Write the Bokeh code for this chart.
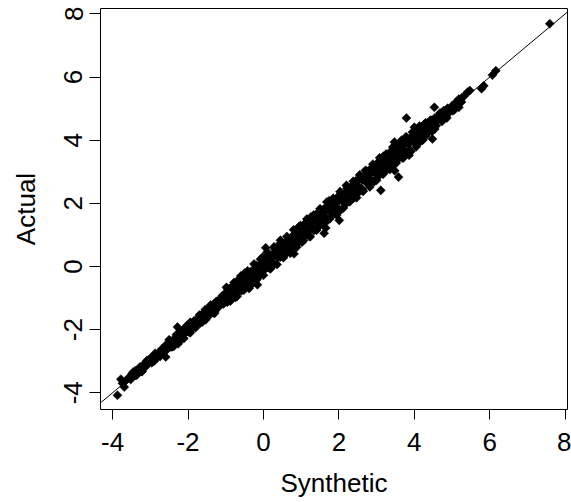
import math
from bokeh.plotting import figure
from bokeh.models import Range1d, FixedTicker, Slope, ColumnDataSource
from bokeh.embed import file_html
from bokeh.resources import INLINE

# ---- data ----
synthetic_a = [-3.57, -3.52, -3.48, -3.44, -3.40, -3.35, -3.31, -3.27, -3.22, -3.18, -3.13, -3.09, -3.05,
               -3.00, -2.96, -2.91, -2.87, -2.82, -2.78, -2.74, -2.69, -2.65, -2.60, -2.56, -2.52]
actual_a = [-3.52, -3.58, -3.40, -3.47, -3.30, -3.43, -3.29, -3.18, -3.32, -3.14, -3.18, -2.98, -3.07,
            -2.93, -3.05, -2.88, -2.75, -2.89, -2.73, -2.85, -2.61, -2.69, -2.50, -2.62, -2.50]

synthetic_b = [-2.48, -2.45, -2.42, -2.38, -2.35, -2.31, -2.28, -2.25, -2.21, -2.18, -2.14, -2.11, -2.08,
               -2.04, -2.01, -1.97, -1.94, -1.91, -1.87, -1.84, -1.80, -1.77, -1.74, -1.70, -1.67, -1.63,
               -1.60, -1.57, -1.53, -1.50, -1.46, -1.43, -1.40, -1.36, -1.33, -1.29, -1.26, -1.23, -1.19,
               -1.16, -1.12, -1.09, -1.06, -1.02]
actual_b = [-2.36, -2.55, -2.39, -2.53, -2.27, -2.16, -2.34, -2.25, -2.34, -2.08, -2.09, -2.28, -1.94,
            -2.08, -1.92, -2.08, -1.77, -1.89, -1.95, -1.72, -1.94, -1.71, -1.76, -1.54, -1.79, -1.55,
            -1.65, -1.44, -1.69, -1.46, -1.35, -1.52, -1.22, -1.39, -1.26, -1.44, -1.12, -1.22, -1.29,
            -1.07, -1.18, -0.93, -1.19, -0.97]

synthetic_c = [-0.99, -0.96, -0.93, -0.89, -0.86, -0.83, -0.79, -0.76, -0.73, -0.69, -0.66, -0.63, -0.59,
               -0.56, -0.53, -0.49, -0.46, -0.43, -0.39, -0.36, -0.33, -0.29, -0.26, -0.23, -0.19, -0.16,
               -0.13, -0.09, -0.06, -0.03, 0.01, 0.04, 0.07, 0.11, 0.14, 0.17, 0.21, 0.24, 0.27, 0.31,
               0.34, 0.37, 0.41, 0.44, 0.47, 0.51, 0.54, 0.57, 0.61, 0.64, 0.67, 0.71, 0.74, 0.77, 0.81,
               0.84, 0.87, 0.91, 0.94, 0.97]
actual_c = [-0.85, -1.13, -0.90, -0.70, -0.94, -0.73, -0.94, -0.71, -0.56, -0.80, -0.66, -0.50, -0.78,
            -0.48, -0.57, -0.33, -0.59, -0.32, -0.37, -0.52, -0.15, -0.36, -0.17, -0.35, -0.04, -0.18,
            -0.07, -0.27, 0.06, -0.12, 0.21, -0.01, 0.14, -0.03, 0.30, 0.18, 0.10, 0.37, 0.10, 0.35,
            0.52, 0.29, 0.51, 0.29, 0.53, 0.70, 0.42, 0.59, 0.42, 0.78, 0.61, 0.82, 0.58, 0.94, 0.84,
            0.74, 1.02, 0.78, 1.02, 0.93]

synthetic_d = [1.01, 1.04, 1.07, 1.11, 1.14, 1.17, 1.21, 1.24, 1.27, 1.31, 1.34, 1.37, 1.41, 1.44, 1.47,
               1.51, 1.54, 1.57, 1.61, 1.64, 1.67, 1.71, 1.74, 1.77, 1.81, 1.84, 1.87, 1.91, 1.94, 1.97,
               2.01, 2.04, 2.07, 2.11, 2.14, 2.17, 2.21, 2.24, 2.27, 2.31, 2.34, 2.37, 2.41, 2.44, 2.47,
               2.51, 2.54, 2.57, 2.61, 2.64, 2.67, 2.71, 2.74, 2.77, 2.81, 2.84, 2.87, 2.91, 2.94, 2.97,
               3.01, 3.04, 3.07, 3.11, 3.14, 3.17]
actual_d = [1.19, 0.82, 1.12, 1.35, 1.02, 1.27, 0.96, 1.39, 1.24, 1.52, 1.17, 1.45, 1.67, 1.35, 1.27,
            1.64, 1.56, 1.43, 1.83, 1.58, 1.84, 1.47, 1.81, 2.02, 1.70, 1.96, 1.68, 1.94, 2.17, 1.82,
            2.10, 1.78, 2.26, 2.07, 2.28, 1.96, 2.47, 2.24, 2.14, 2.51, 2.26, 2.48, 2.18, 2.60, 2.51,
            2.33, 2.78, 2.47, 2.74, 2.39, 2.88, 2.69, 2.82, 2.61, 3.06, 2.77, 3.02, 2.69, 2.99, 3.16,
            2.89, 3.27, 2.88, 3.21, 3.09, 3.34]

synthetic_e = [3.21, 3.25, 3.28, 3.32, 3.35, 3.39, 3.42, 3.46, 3.49, 3.53, 3.56, 3.60, 3.63, 3.67, 3.70,
               3.74, 3.77, 3.81, 3.84, 3.88, 3.91, 3.95, 3.98, 4.02, 4.05, 4.09, 4.12, 4.16, 4.19, 4.23,
               4.26, 4.30, 4.34, 4.38, 4.42, 4.46, 4.50, 4.54, 4.58, 4.63, 4.68, 4.73, 4.78, 4.83, 4.88,
               4.94, 5.00, 5.06, 5.12, 5.18, 5.25, 5.32]
actual_e = [3.01, 3.47, 3.33, 3.20, 3.62, 3.34, 3.57, 3.22, 3.59, 3.81, 3.41, 3.62, 3.83, 3.45, 3.82,
            3.66, 4.02, 3.63, 3.91, 4.06, 3.65, 4.09, 3.96, 4.25, 3.91, 4.18, 3.91, 4.35, 4.22, 4.12,
            4.50, 4.13, 4.45, 4.32, 4.63, 4.27, 4.58, 4.70, 4.46, 4.67, 4.86, 4.59, 4.88, 4.75, 5.01,
            4.89, 5.09, 4.96, 5.18, 5.30, 5.21, 5.40]

synthetic_fill = [-3.46, -3.38, -3.30, -3.22, -3.14, -3.06, -2.98, -2.90, -2.82, -2.74, -2.66, -2.58,
                  -2.50, -2.42, -2.34, -2.26, -2.18, -2.10, -2.02, -1.94, -1.86, -1.78, -1.70, -1.62,
                  -1.54, -1.46, -1.38, -1.30, -1.22, -1.14, -1.06,
                  -0.98, -0.90, -0.82, -0.74, -0.66, -0.58, -0.50, -0.42, -0.34, -0.26, -0.18, -0.10,
                  -0.02, 0.06, 0.14, 0.22, 0.30, 0.38, 0.46, 0.54, 0.62, 0.70, 0.78, 0.86, 0.94,
                  1.02, 1.10, 1.18, 1.26, 1.34, 1.42, 1.50, 1.58, 1.66, 1.74, 1.82, 1.90, 1.98, 2.06,
                  2.14, 2.22, 2.30, 2.38, 2.46, 2.54, 2.62, 2.70, 2.78, 2.86, 2.94, 3.02, 3.10, 3.18,
                  3.26, 3.34, 3.42, 3.50, 3.58, 3.66, 3.74, 3.82, 3.90, 3.98, 4.06, 4.14, 4.22,
                  4.30, 4.38, 4.46, 4.54, 4.62, 4.70, 4.78, 4.86, 4.94, 5.02, 5.10, 5.18, 5.26]
actual_fill = [-3.35, -3.45, -3.26, -3.33, -3.06, -3.08, -2.88, -3.00, -2.81, -2.79, -2.60, -2.66,
               -2.32, -2.54, -2.28, -2.45, -2.05, -2.14, -1.86, -2.10, -1.84, -1.87, -1.60, -1.76,
               -1.36, -1.58, -1.32, -1.49, -1.09, -1.18, -0.90,
               -0.66, -1.03, -0.68, -0.98, -0.41, -0.59, -0.21, -0.61, -0.26, -0.35, 0.02, -0.26,
               0.30, -0.07, 0.28, -0.02, 0.55, 0.37, 0.75, 0.35, 0.70, 0.61, 0.98, 0.70, 1.26,
               0.77, 1.36, 1.17, 1.57, 1.13, 1.50, 1.41, 1.79, 1.49, 2.08, 1.68, 2.05, 1.73, 2.32,
               2.13, 2.53, 2.09, 2.46, 2.37, 2.75, 2.45, 3.04, 2.64, 3.01, 2.69, 3.28, 3.09, 3.49,
               3.05, 3.42, 3.33, 3.71, 3.41, 4.00, 3.60, 3.97, 3.65, 4.24, 4.05, 4.45, 4.01,
               4.48, 4.26, 4.52, 4.35, 4.75, 4.66, 4.94, 4.70, 4.96, 4.93, 5.20, 5.04, 5.34]

synthetic_mid = [-0.95, -0.85, -0.75, -0.65, -0.55, -0.45, -0.35, -0.25, -0.15, -0.05, 0.05, 0.15, 0.25,
                 0.35, 0.45, 0.55, 0.65, 0.75, 0.85, 0.95, 1.05, 1.15, 1.25, 1.35, 1.45, 1.55, 1.65,
                 1.75, 1.85, 1.95, 2.05, 2.15, 2.25, 2.35, 2.45, 2.55, 2.65, 2.75, 2.85, 2.95, 3.05,
                 3.15, 3.25, 3.35, 3.45, 3.55, 3.65, 3.75, 3.85, 3.95, 4.05, 4.15, 4.25, 4.35, 4.45, 4.55]
actual_mid = [-0.93, -0.65, -0.85, -0.53, -0.60, -0.21, -0.29, -0.39, 0.01, -0.05, 0.27, 0.07, 0.35,
              0.61, 0.33, 0.59, 0.83, 0.73, 0.99, 0.79, 1.29, 1.23, 1.19, 1.55, 1.47, 1.37, 1.77,
              2.03, 1.81, 2.11, 2.11, 2.03, 2.47, 2.35, 2.71, 2.47, 2.75, 2.93, 2.71, 2.99, 3.29,
              3.13, 3.39, 3.17, 3.65, 3.63, 3.55, 4.01, 3.87, 4.11, 3.99, 4.37, 4.35, 4.23, 4.63, 4.59]

synthetic_upper = [-0.95, -0.78, -0.60, -0.42, -0.25, -0.08, 0.10, 0.28, 0.45, 0.62, 0.80, 0.98, 1.15,
                   1.33, 1.50, 1.68, 1.85, 2.03, 2.20, 2.38, 2.55, 2.73, 2.90, 3.08, 3.25, 3.43, 3.60,
                   3.78, 3.95, 4.13, 4.30]
actual_upper = [-0.71, -0.51, -0.30, -0.14, 0.08, 0.23, 0.46, 0.62, 0.83, 0.95, 1.16, 1.30, 1.50,
                1.63, 1.83, 2.04, 2.16, 2.37, 2.57, 2.70, 2.90, 3.03, 3.24, 3.44, 3.56, 3.78, 3.89,
                4.11, 4.25, 4.40, 4.55]

synthetic_lower = [-0.88, -0.70, -0.52, -0.35, -0.17, 0.00, 0.18, 0.36, 0.53, 0.71, 0.88, 1.06, 1.24,
                   1.41, 1.59, 1.76, 1.94, 2.12, 2.29, 2.47, 2.64, 2.82, 3.00, 3.17, 3.35, 3.52, 3.70,
                   3.87, 4.05, 4.22]
actual_lower = [-1.10, -0.95, -0.75, -0.62, -0.41, -0.28, -0.08, 0.06, 0.28, 0.42, 0.61, 0.82, 0.94,
                1.15, 1.31, 1.51, 1.63, 1.85, 2.05, 2.18, 2.38, 2.52, 2.73, 2.92, 3.07, 3.28, 3.43,
                3.64, 3.79, 4.00]

synthetic_out = [-3.87, -3.78, -3.69, -3.65, -3.74, -2.59, -2.28, -0.38, -0.16, 0.06, 0.81, 1.61, 1.65,
                 2.01, 3.11, 3.58, 3.48, 3.86, 3.47, 3.79, 4.53, 4.48, 4.00, 5.41, 5.47, 5.78, 5.84,
                 6.07, 6.16, 7.59]
actual_out = [-4.08, -3.57, -3.82, -3.62, -3.70, -2.87, -1.92, -0.70, -0.58, 0.59, 0.40, 1.05, 1.22,
              1.46, 2.41, 2.83, 3.03, 3.52, 3.94, 4.70, 5.04, 4.04, 4.41, 5.52, 5.57, 5.63, 5.72,
              6.06, 6.20, 7.69]

x_ticks = [-4, -2, 0, 2, 4, 6, 8]
y_ticks = [-4, -2, 0, 2, 4, 6, 8]
x_label = "Synthetic"
y_label = "Actual"

synthetic = (synthetic_a + synthetic_b + synthetic_c + synthetic_d + synthetic_e + synthetic_fill
             + synthetic_mid + synthetic_upper + synthetic_lower + synthetic_out)
actual = (actual_a + actual_b + actual_c + actual_d + actual_e + actual_fill
          + actual_mid + actual_upper + actual_lower + actual_out)

FONT = "Liberation Sans"

p = figure(width=571, height=502, output_backend="svg", toolbar_location=None,
           x_range=Range1d(-4.32, 8.06), y_range=Range1d(-4.53, 8.17))
p.min_border_left = 100
p.min_border_right = 4
p.min_border_top = 8
p.min_border_bottom = 93
p.background_fill_color = "white"
p.border_fill_color = "white"
p.outline_line_color = "black"
p.outline_line_width = 1
p.xgrid.visible = False
p.ygrid.visible = False

src = ColumnDataSource(data=dict(x=synthetic, y=actual))
p.scatter("x", "y", source=src, marker="square", angle=math.pi / 4, size=6.4,
          fill_color="black", line_color="black", line_width=0.5)

p.add_layout(Slope(gradient=1, y_intercept=0, line_color="black", line_width=1))

for ax, ticks in ((p.xaxis, x_ticks), (p.yaxis, y_ticks)):
    ax.ticker = FixedTicker(ticks=ticks)
    ax.major_label_overrides = {t: str(t) for t in ticks}
    ax.minor_tick_line_color = None
    ax.axis_line_color = None
    ax.major_tick_line_color = "black"
    ax.major_tick_in = 0
    ax.major_label_text_font = FONT
    ax.major_label_text_font_size = "26px"
    ax.major_label_text_color = "black"
    ax.axis_label_text_font = FONT
    ax.axis_label_text_font_size = "26px"
    ax.axis_label_text_font_style = "normal"
    ax.axis_label_text_color = "black"

p.xaxis.major_tick_out = 10
p.xaxis.major_label_standoff = 13
p.xaxis.axis_label = x_label
p.xaxis.axis_label_standoff = 14

p.yaxis.major_tick_out = 11
p.yaxis.major_label_orientation = "vertical"
p.yaxis.major_label_standoff = 7
p.yaxis.axis_label = y_label
p.yaxis.axis_label_standoff = 21

open("out.html", "w").write(file_html(p, INLINE))
